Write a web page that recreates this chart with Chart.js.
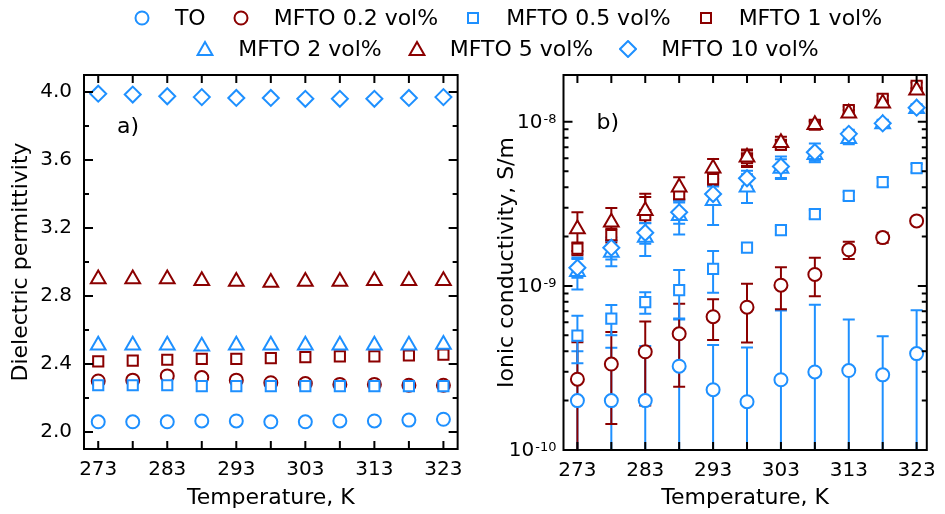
<!DOCTYPE html>
<html>
<head>
<meta charset="utf-8">
<script src="https://cdn.jsdelivr.net/npm/chart.js@4.4.1/dist/chart.umd.min.js"></script>
<style>
  html, body { margin: 0; padding: 0; background: #fff; }
  body { width: 945px; height: 514px; position: relative; overflow: hidden; font-family: "DejaVu Sans", sans-serif; }
  #panelA { position: absolute; left: 0; top: 0; }
  #panelB { position: absolute; left: 472px; top: 0; }
  #legend { position: absolute; left: 70px; top: 2px; width: 875px; z-index: 2; }
  .row { display: flex; justify-content: center; align-items: center; height: 31px; }
  .item { display: flex; align-items: center; margin: 0 13px; font-size: 22px; color: #000; white-space: nowrap; }
  .item svg { margin-right: 24px; }
</style>
</head>
<body>
<canvas id="panelA" width="472" height="514"></canvas>
<canvas id="panelB" width="473" height="514"></canvas>
<div id="legend"></div>
<script>
// measurement temperatures, K
const temps = [273, 278, 283, 288, 293, 298, 303, 308, 313, 318, 323];
const tempLabels = [273, 283, 293, 303, 313, 323];

const seriesNames = ['TO', 'MFTO 0.2 vol%', 'MFTO 0.5 vol%', 'MFTO 1 vol%', 'MFTO 2 vol%', 'MFTO 5 vol%', 'MFTO 10 vol%'];

// a) dielectric permittivity
const permTicks = [2.0, 2.2, 2.4, 2.6, 2.8, 3.0, 3.2, 3.4, 3.6, 3.8, 4.0];
const permLabels = [2.0, 2.4, 2.8, 3.2, 3.6, 4.0];
const permTO = [2.06, 2.06, 2.06, 2.065, 2.065, 2.06, 2.06, 2.065, 2.065, 2.07, 2.075];
const perm02 = [2.30, 2.305, 2.33, 2.32, 2.305, 2.29, 2.285, 2.28, 2.28, 2.275, 2.275];
const perm05 = [2.275, 2.275, 2.275, 2.27, 2.27, 2.27, 2.27, 2.27, 2.27, 2.27, 2.27];
const perm1 = [2.415, 2.42, 2.425, 2.43, 2.43, 2.435, 2.44, 2.445, 2.445, 2.45, 2.455];
const perm2 = [2.51, 2.51, 2.51, 2.505, 2.51, 2.51, 2.51, 2.51, 2.51, 2.51, 2.515];
const perm5 = [2.90, 2.90, 2.90, 2.89, 2.885, 2.88, 2.885, 2.885, 2.89, 2.89, 2.89];
const perm10 = [3.99, 3.985, 3.975, 3.97, 3.965, 3.965, 3.96, 3.96, 3.96, 3.965, 3.97];

// b) ionic conductivity, S/m, with error bars
const condDecades = [1e-10, 1e-9, 1e-8];
const condTO = [2.0e-10, 2.0e-10, 2.0e-10, 3.24e-10, 2.33e-10, 1.97e-10, 2.68e-10, 2.99e-10, 3.05e-10, 2.87e-10, 3.87e-10];
const errTO = [2.0e-10, 2.2e-10, 2.3e-10, 3.0e-10, 2.04e-10, 2.25e-10, 4.4e-10, 4.7e-10, 3.2e-10, 2.06e-10, 3.24e-10];
const cond02 = [2.70e-10, 3.34e-10, 3.97e-10, 5.11e-10, 6.49e-10, 7.42e-10, 1.01e-9, 1.175e-9, 1.66e-9, 1.97e-9, 2.49e-9];
const err02 = [1.83e-10, 1.9e-10, 2.1e-10, 2.68e-10, 1.8e-10, 2.9e-10, 2.9e-10, 3.1e-10, 2.0e-10, 1.4e-10, 0.4e-10];
const cond05 = [4.98e-10, 6.32e-10, 7.96e-10, 9.42e-10, 1.27e-9, 1.71e-9, 2.19e-9, 2.74e-9, 3.54e-9, 4.29e-9, 5.23e-9];
const err05 = [1.6e-10, 1.32e-10, 1.2e-10, 3.1e-10, 3.6e-10, 1.0e-10, 1.3e-10, 1.6e-10, 2.0e-10, 2.4e-10, 3.0e-10];
const cond1 = [1.69e-9, 2.04e-9, 2.70e-9, 3.63e-9, 4.48e-9, 6.0e-9, 7.25e-9, 9.6e-9, 1.18e-8, 1.38e-8, 1.66e-8];
const err1 = [0.15e-9, 0.2e-9, 0.78e-9, 0.3e-9, 0.4e-9, 0.7e-9, 0.5e-9, 0.5e-9, 0.6e-9, 0.7e-9, 0.8e-9];
const cond2 = [1.22e-9, 1.6e-9, 1.97e-9, 2.68e-9, 3.3e-9, 4.0e-9, 5.2e-9, 6.3e-9, 7.9e-9, 9.7e-9, 1.2e-8];
const err2 = [0.27e-9, 0.28e-9, 0.45e-9, 0.62e-9, 0.95e-9, 0.8e-9, 0.72e-9, 0.5e-9, 0.6e-9, 0.5e-9, 0.6e-9];
const cond5 = [2.22e-9, 2.44e-9, 2.87e-9, 3.99e-9, 5.21e-9, 6.08e-9, 7.45e-9, 9.6e-9, 1.13e-8, 1.30e-8, 1.56e-8];
const err5 = [0.59e-9, 0.54e-9, 0.78e-9, 0.6e-9, 0.73e-9, 0.7e-9, 0.65e-9, 0.5e-9, 0.5e-9, 0.5e-9, 0.5e-9];
const cond10 = [1.29e-9, 1.71e-9, 2.11e-9, 2.81e-9, 3.63e-9, 4.53e-9, 5.35e-9, 6.53e-9, 8.45e-9, 9.79e-9, 1.22e-8];
const err10 = [0.17e-9, 0.26e-9, 0.3e-9, 0.42e-9, 0.4e-9, 0.5e-9, 0.8e-9, 0.85e-9, 0.5e-9, 0.5e-9, 0.6e-9];

const permSeries = [permTO, perm02, perm05, perm1, perm2, perm5, perm10];
const condSeries = [condTO, cond02, cond05, cond1, cond2, cond5, cond10];
const condErrors = [errTO, err02, err05, err1, err2, err5, err10];

const BLUE = '#1E90FF';
const RED = '#8B0000';
const markers = [
    { color: BLUE, style: 'circle', r: 6.5 },
    { color: RED, style: 'circle', r: 6.5 },
    { color: BLUE, style: 'rect', r: 7.2 },
    { color: RED, style: 'rect', r: 7.2 },
    { color: BLUE, style: 'triangle', r: 8.5 },
    { color: RED, style: 'triangle', r: 8.5 },
    { color: BLUE, style: 'rectRot', r: 8 }
];

const FONT = '"DejaVu Sans", sans-serif';
Chart.defaults.font.family = FONT;
Chart.defaults.font.size = 20;
Chart.defaults.color = '#000';

function makeDatasets(series, errors) {
    return series.map((vals, i) => ({
        label: seriesNames[i],
        data: vals.map((v, k) => ({ x: temps[k], y: v })),
        errors: errors ? errors[i] : null,
        pointStyle: markers[i].style,
        pointRadius: markers[i].r,
        pointBorderWidth: 2,
        borderColor: markers[i].color,
        backgroundColor: '#fff',
        order: series.length - i, // later series sit on top
        clip: false
    }));
}

// vertical error bars, clipped at the plot frame
const errorBars = {
    id: 'errorBars',
    beforeDatasetsDraw(chart) {
        const { ctx, chartArea: a, scales: { x, y } } = chart;
        ctx.save();
        ctx.beginPath();
        ctx.rect(a.left, a.top, a.width, a.height);
        ctx.clip();
        ctx.lineWidth = 2;
        chart.data.datasets.forEach(ds => {
            if (!ds.errors) return;
            ctx.strokeStyle = ds.borderColor;
            ctx.beginPath();
            ds.data.forEach((p, i) => {
                const px = x.getPixelForValue(p.x);
                const hi = y.getPixelForValue(p.y + ds.errors[i]);
                const low = p.y - ds.errors[i];
                const lo = low > y.min ? y.getPixelForValue(low) : a.bottom + 2;
                ctx.moveTo(px, hi); ctx.lineTo(px, lo);
                ctx.moveTo(px - 6, hi); ctx.lineTo(px + 6, hi);
                if (low > y.min) { ctx.moveTo(px - 6, lo); ctx.lineTo(px + 6, lo); }
            });
            ctx.stroke();
        });
        ctx.restore();
    }
};

// box frame with inward ticks on all four sides, plus panel letter
const frame = {
    id: 'frame',
    afterDatasetsDraw(chart, args, opts) {
        const { ctx, chartArea: a, scales: { x, y } } = chart;
        ctx.save();
        ctx.strokeStyle = '#000';
        ctx.lineWidth = 2;
        ctx.strokeRect(a.left, a.top, a.width, a.height);
        ctx.beginPath();
        x.ticks.forEach(t => {
            const px = x.getPixelForValue(t.value);
            ctx.moveTo(px, a.bottom); ctx.lineTo(px, a.bottom - 8);
            ctx.moveTo(px, a.top); ctx.lineTo(px, a.top + 8);
        });
        y.ticks.forEach(t => {
            const py = y.getPixelForValue(t.value);
            const len = t.major ? 9 : 5;
            ctx.moveTo(a.left, py); ctx.lineTo(a.left + len, py);
            ctx.moveTo(a.right, py); ctx.lineTo(a.right - len, py);
        });
        ctx.stroke();
        ctx.fillStyle = '#000';
        ctx.font = '22px ' + FONT;
        ctx.textBaseline = 'middle';
        ctx.fillText(opts.letter, a.left + 33, a.top + opts.letterDy);
        if (opts.powerLabels) {
            // 10^n labels for the log axis
            ctx.textAlign = 'left';
            y.ticks.filter(t => t.major).forEach(t => {
                const py = y.getPixelForValue(t.value);
                const exp = String(Math.round(Math.log10(t.value)));
                ctx.font = '20px ' + FONT;
                const wBase = ctx.measureText('10').width;
                ctx.font = '13px ' + FONT;
                const wExp = ctx.measureText(exp).width;
                const x0 = a.left - 8 - wBase - wExp;
                ctx.font = '20px ' + FONT;
                ctx.textBaseline = 'middle';
                ctx.fillText('10', x0, py + 1);
                ctx.font = '13px ' + FONT;
                ctx.textBaseline = 'alphabetic';
                ctx.fillText(exp, x0 + wBase + 1, py + 1);
            });
        }
        ctx.restore();
    }
};

function tempAxis(min, max, height) {
    return {
        type: 'linear',
        min: min,
        max: max,
        afterBuildTicks: s => { s.ticks = temps.map(v => ({ value: v })); },
        afterFit: s => { s.height = height; },
        grid: { display: false, drawTicks: false },
        border: { display: false },
        ticks: {
            autoSkip: false,
            maxRotation: 0,
            padding: 9,
            callback: v => tempLabels.includes(v) ? String(v) : ''
        },
        title: { display: true, text: 'Temperature, K', font: { size: 22 }, padding: { top: 0, bottom: 3 } }
    };
}

new Chart(document.getElementById('panelA'), {
    type: 'scatter',
    data: { datasets: makeDatasets(permSeries, null) },
    options: {
        responsive: false,
        animation: false,
        events: [],
        layout: { padding: { top: 75, right: 13, left: 0, bottom: 0 } },
        scales: {
            x: tempAxis(270.94, 325.06, 65),
            y: {
                type: 'linear',
                min: 1.9,
                max: 4.1,
                afterBuildTicks: s => { s.ticks = permTicks.map(v => ({ value: v, major: permLabels.includes(v) })); },
                afterFit: s => { s.width = 84; },
                grid: { display: false, drawTicks: false },
                border: { display: false },
                ticks: {
                    autoSkip: false,
                    padding: 12,
                    callback: v => permLabels.includes(v) ? v.toFixed(1) : ''
                },
                title: { display: true, text: 'Dielectric permittivity', font: { size: 22 }, padding: { top: 8, bottom: 0 } }
            }
        },
        plugins: {
            legend: { display: false },
            tooltip: { enabled: false },
            frame: { letter: 'a)', letterDy: 52 }
        }
    },
    plugins: [frame]
});

new Chart(document.getElementById('panelB'), {
    type: 'scatter',
    data: { datasets: makeDatasets(condSeries, condErrors) },
    options: {
        responsive: false,
        animation: false,
        events: [],
        layout: { padding: { top: 75, right: 10, left: 14, bottom: 0 } },
        scales: {
            x: tempAxis(270.95, 324.5, 64),
            y: {
                type: 'logarithmic',
                min: 1e-10,
                max: 1.93e-8,
                afterBuildTicks: s => {
                    const ticks = [];
                    condDecades.forEach(d => {
                        for (let k = 1; k <= 9; k++) {
                            const v = d * k;
                            if (v <= s.max) ticks.push({ value: v, major: k === 1 });
                        }
                    });
                    s.ticks = ticks;
                },
                afterFit: s => { s.width = 77.5; },
                grid: { display: false, drawTicks: false },
                border: { display: false },
                ticks: { autoSkip: false, callback: () => '' },
                title: { display: true, text: 'Ionic conductivity, S/m', font: { size: 22 }, padding: { top: 8, bottom: 0 } }
            }
        },
        plugins: {
            legend: { display: false },
            tooltip: { enabled: false },
            frame: { letter: 'b)', letterDy: 48, powerLabels: true }
        }
    },
    plugins: [errorBars, frame]
});

// shared legend, two rows
function legendIcon(m) {
    const s = 'fill="#fff" stroke="' + m.color + '" stroke-width="2"';
    let shape;
    if (m.style === 'circle') shape = '<circle cx="9" cy="9" r="6.5" ' + s + '/>';
    else if (m.style === 'rect') shape = '<rect x="4" y="4" width="10" height="10" ' + s + '/>';
    else if (m.style === 'triangle') shape = '<polygon points="9,2 16.4,15 1.6,15" ' + s + '/>';
    else shape = '<polygon points="9,1 17,9 9,17 1,9" ' + s + '/>';
    return '<svg width="18" height="18" viewBox="0 0 18 18">' + shape + '</svg>';
}
const legendRows = [[0, 1, 2, 3], [4, 5, 6]];
document.getElementById('legend').innerHTML = legendRows.map(row =>
    '<div class="row">' + row.map(i =>
        '<div class="item">' + legendIcon(markers[i]) + '<span>' + seriesNames[i] + '</span></div>'
    ).join('') + '</div>'
).join('');
</script>
</body>
</html>
